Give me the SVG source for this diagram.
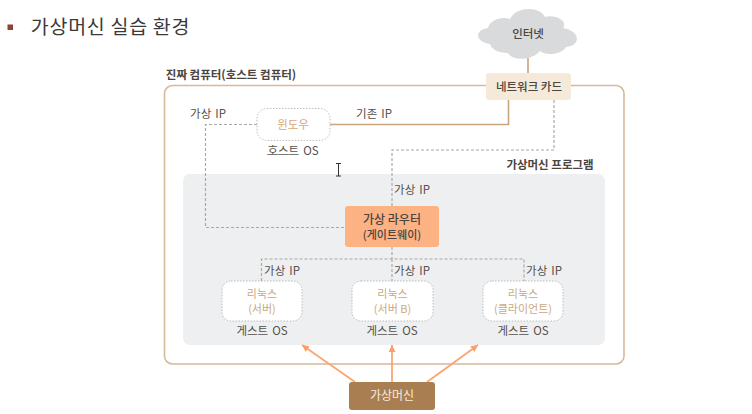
<svg xmlns="http://www.w3.org/2000/svg" width="752" height="414" viewBox="0 0 752 414">
<style>
text{font-family:"Noto Sans CJK KR","Liberation Sans",sans-serif;text-anchor:middle}
.lb{font-size:11.5px;fill:#55504c;word-spacing:1.5px}
.dk{font-size:11.5px;fill:#4a4541;font-weight:500}
.tan{font-size:11px;fill:#c9a982}
.dash{fill:none;stroke:#a8a8a8;stroke-width:1.2;stroke-dasharray:3 2}
.solid{fill:none;stroke:#c9a47c;stroke-width:1.6}
.arr{fill:none;stroke:#fba574;stroke-width:1.8;marker-end:url(#ah)}
.vm{fill:#fff;stroke:#b5b5b5;stroke-width:.9;stroke-dasharray:1.5 1.5}
</style>
<defs>
<marker id="ah" markerUnits="userSpaceOnUse" markerWidth="8" markerHeight="8" refX="7" refY="3.5" orient="auto"><path d="M0 0L7 3.5L0 7z" fill="#fb9f6a"/></marker>
</defs>
<rect width="752" height="414" fill="#fff"/>
<rect id="bullet" x="7.500" y="24.500" width="5.500" height="5.500" fill="#8f4237"/>
<text id="title" x="110.500" y="34" style="font-size:19.500px;font-weight:400;fill:#3a3a3a;letter-spacing:.7px">가상머신 실습 환경</text>
<g id="host-computer">
<rect x="164.500" y="85.500" width="459.500" height="278.500" rx="8" fill="#fff" stroke="#d6b89b" stroke-width="1.6"/>
<text x="231" y="79" class="dk" style="font-weight:700">진짜 컴퓨터(호스트 컴퓨터)</text>
</g>
<g id="vm-program">
<rect x="183" y="174" width="422" height="171" rx="7" fill="#eeeff0"/>
<text x="550" y="169" class="dk" style="font-weight:700">가상머신 프로그램</text>
</g>
<g id="connectors">
<path class="solid" d="M528 58V73M330 124.500H508.500V100"/>
<path class="dash" d="M554 100V150H392V206M257 124.500H205.500V227.500H345M392 247V259M261.500 281V259H524V281M392 259V281"/>
<path class="arr" d="M355 382L302 345"/>
<path class="arr" d="M392 382V345"/>
<path class="arr" d="M427 382L478 345"/>
</g>
<g id="internet">
<path d="M490 44C475 42 474 30 488 28C490 19 503 16 510 19C516 6 540 6 545 17C557 14 568 22 563 28C581 31 581 46 566 47C562 55 545 56 540 51C532 61 512 61 508 53C502 53 492 51 490 44Z" fill="#d9dadc"/>
<text x="528" y="38" class="dk">인터넷</text>
</g>
<g id="network-card">
<rect x="486" y="73" width="85" height="27" rx="3" fill="#f5ead9"/>
<text x="529" y="91" class="dk">네트워크 카드</text>
</g>
<g id="windows">
<rect x="257" y="108.500" width="73" height="32" rx="10" class="vm"/>
<text x="293" y="129" class="tan" style="font-size:11.500px;fill:#d8a872">윈도우</text>
<text x="293" y="155" class="lb">호스트 OS</text>
<path d="M267 154.500H297" stroke="#777" stroke-width=".7"/>
</g>
<text id="ip-host-virtual" x="208" y="118" class="lb">가상 IP</text>
<text id="ip-host-existing" x="374" y="118" class="lb">기존 IP</text>
<text id="ip-router" x="412" y="194" class="lb">가상 IP</text>
<g id="router">
<rect x="345" y="206" width="94" height="41" rx="3" fill="#fdb283"/>
<text x="392" y="224" class="dk" style="font-size:12px">가상 라우터</text>
<text x="392" y="239" class="dk" style="font-size:11px">(게이트웨이)</text>
</g>
<g id="linux-server">
<rect x="222" y="281" width="80" height="40" rx="9" class="vm"/>
<text x="262" y="297.500" class="tan">리눅스</text>
<text x="262" y="312.500" class="tan">(서버)</text>
<text x="262" y="335" class="lb">게스트 OS</text>
<text x="282" y="275" class="lb">가상 IP</text>
</g>
<g id="linux-server-b">
<rect x="352" y="281" width="81" height="40" rx="9" class="vm"/>
<text x="392.500" y="297.500" class="tan">리눅스</text>
<text x="392.500" y="312.500" class="tan">(서버 B)</text>
<text x="392" y="335" class="lb">게스트 OS</text>
<text x="412" y="275" class="lb">가상 IP</text>
</g>
<g id="linux-client">
<rect x="483" y="281" width="80" height="40" rx="9" class="vm"/>
<text x="523" y="297.500" class="tan">리눅스</text>
<text x="523" y="312.500" class="tan">(클라이언트)</text>
<text x="523" y="335" class="lb">게스트 OS</text>
<text x="544" y="275" class="lb">가상 IP</text>
</g>
<g id="vm-box">
<rect x="349" y="382" width="86" height="28" rx="3" fill="#a97f52"/>
<text x="392" y="400" style="font-size:12px;fill:#f5ece0">가상머신</text>
</g>
<path id="cursor" d="M336 163.500H341M338.500 163.500V176M336 176H341" fill="none" stroke="#333" stroke-width="1"/>
</svg>
